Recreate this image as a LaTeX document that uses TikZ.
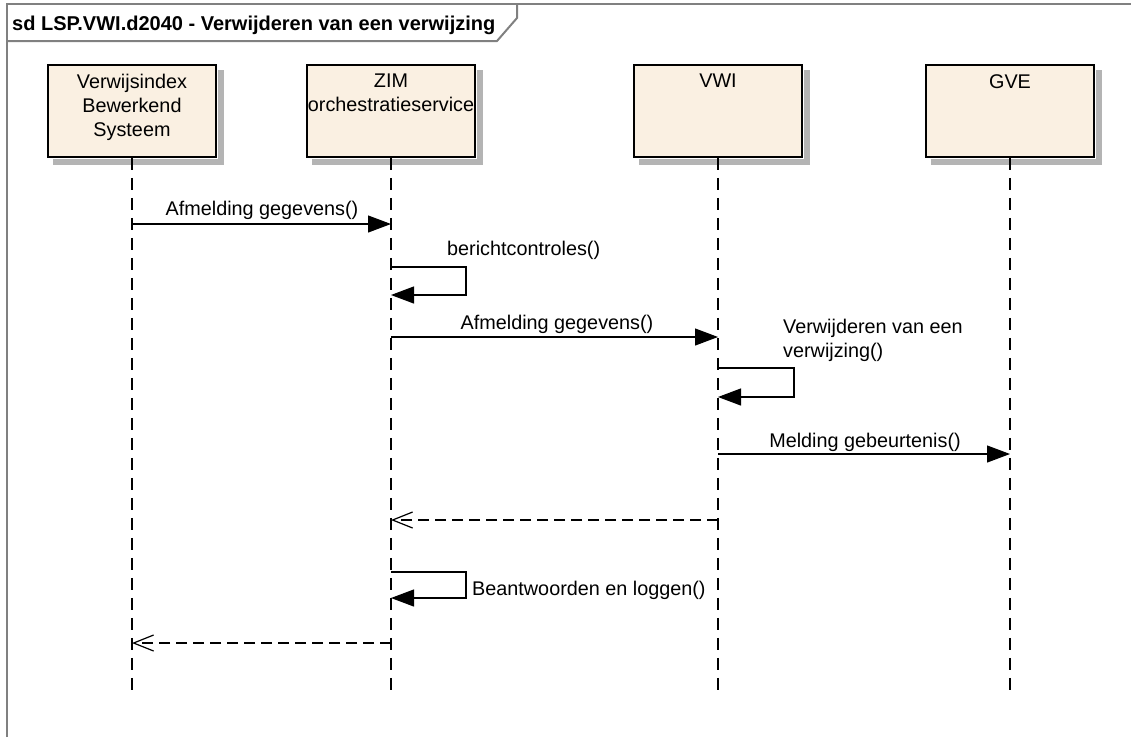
\documentclass[tikz,border=0pt]{standalone}
\usepackage{fontspec}
\setmainfont{Liberation Sans}
\usetikzlibrary{arrows.meta}
\definecolor{actorfill}{RGB}{250,240,226}
\definecolor{framegray}{RGB}{128,128,128}
\definecolor{boxshade}{RGB}{180,180,180}
\tikzset{
 actor/.style={draw=black, line width=1.8pt, fill=actorfill, minimum width=168pt, minimum height=92pt, inner sep=0},
 actortext/.style={anchor=north, inner sep=0, align=center, font=\fontsize{19.8}{24}\selectfont},
 lifeline/.style={line width=1.5pt, dash pattern=on 12pt off 8pt},
 msg/.style={line width=1.2pt, -{Triangle[length=23pt,width=17pt]}},
 ret/.style={line width=1.2pt, dash pattern=on 11pt off 6pt, -{Straight Barb[length=20pt,width=16pt,line width=1.2pt]}},
 lbl/.style={inner sep=0, font=\fontsize{19.8}{24}\selectfont},
 framel/.style={draw=framegray, line width=2pt},
 boxshadow/.style={draw=boxshade, line width=6pt, line cap=butt, line join=miter},
}
\begin{document}
\begin{tikzpicture}[x=1pt,y=-1pt]
\useasboundingbox (0,0) rectangle (1131,737);
% frame
\draw[framel] (7,737) -- (7,4) -- (1131,4);
\draw[framel] (7,41) -- (497,41) -- (517,18) -- (517,4);
\node[lbl, anchor=base west, font=\fontsize{20}{24}\selectfont\bfseries] (title) at (12,30) {sd LSP.VWI.d2040 - Verwijderen van een verwijzing};
% actors
\node[actor] (b1) at (132,111) {};
\node[actor] (b2) at (391,111) {};
\node[actor] (b3) at (718,111) {};
\node[actor] (b4) at (1010,111) {};
% shadows (strips right of and below each box)
\draw[boxshadow] ([xshift=4pt,yshift=-6pt]b1.north east) |- ([xshift=6pt,yshift=-4pt]b1.south west);
\draw[boxshadow] ([xshift=4pt,yshift=-6pt]b2.north east) |- ([xshift=6pt,yshift=-4pt]b2.south west);
\draw[boxshadow] ([xshift=4pt,yshift=-6pt]b3.north east) |- ([xshift=6pt,yshift=-4pt]b3.south west);
\draw[boxshadow] ([xshift=4pt,yshift=-6pt]b4.north east) |- ([xshift=6pt,yshift=-4pt]b4.south west);
\node[actortext, yshift=-10pt] (t1) at (b1.north) {Verwijsindex\\Bewerkend\\Systeem};
\node[actortext, yshift=-10pt] (t2) at (b2.north) {ZIM\\orchestratieservice};
\node[actortext, yshift=-10pt] (t3) at (b3.north) {VWI};
\node[actortext, yshift=-10pt] (t4) at (b4.north) {GVE};
% lifeline ends
\coordinate (e1) at (132,697);
\coordinate (e2) at (391,697);
\coordinate (e3) at (718,697);
\coordinate (e4) at (1010,697);
\draw[lifeline] (b1.south) -- (e1);
\draw[lifeline] (b2.south) -- (e2);
\draw[lifeline] (b3.south) -- (e3);
\draw[lifeline] (b4.south) -- (e4);
% message points
\coordinate (m1a) at (132,224); \coordinate (m1b) at (391,224);
\coordinate (s1a) at (391,267); \coordinate (s1b) at (391,295);
\coordinate (m2a) at (391,337); \coordinate (m2b) at (718,337);
\coordinate (s2a) at (718,368); \coordinate (s2b) at (718,397);
\coordinate (m3a) at (718,454); \coordinate (m3b) at (1010,454);
\coordinate (r1a) at (718,520); \coordinate (r1b) at (391,520);
\coordinate (s3a) at (391,572); \coordinate (s3b) at (391,598);
\coordinate (r2a) at (391,643); \coordinate (r2b) at (132,643);
% messages
\draw[msg] (m1a) -- (m1b);
\node[lbl, anchor=base] (l1) at (262,215) {Afmelding gegevens()};
\draw[msg] (s1a) -- ++(75,0) |- (s1b);
\node[lbl, anchor=base west] (l2) at (447,255) {berichtcontroles()};
\draw[msg] (m2a) -- (m2b);
\node[lbl, anchor=base] (l3) at (557,329) {Afmelding gegevens()};
\draw[msg] (s2a) -- ++(76,0) |- (s2b);
\node[lbl, anchor=base west, align=left] (l4) at (783,357) {Verwijderen van een\\verwijzing()};
\draw[msg] (m3a) -- (m3b);
\node[lbl, anchor=base] (l5) at (865,447) {Melding gebeurtenis()};
\draw[ret] (r1a) -- (r1b);
\draw[msg] (s3a) -- ++(75,0) |- (s3b);
\node[lbl, anchor=base west] (l6) at (472,595) {Beantwoorden en loggen()};
\draw[ret] (r2a) -- (r2b);
\end{tikzpicture}
\end{document}
